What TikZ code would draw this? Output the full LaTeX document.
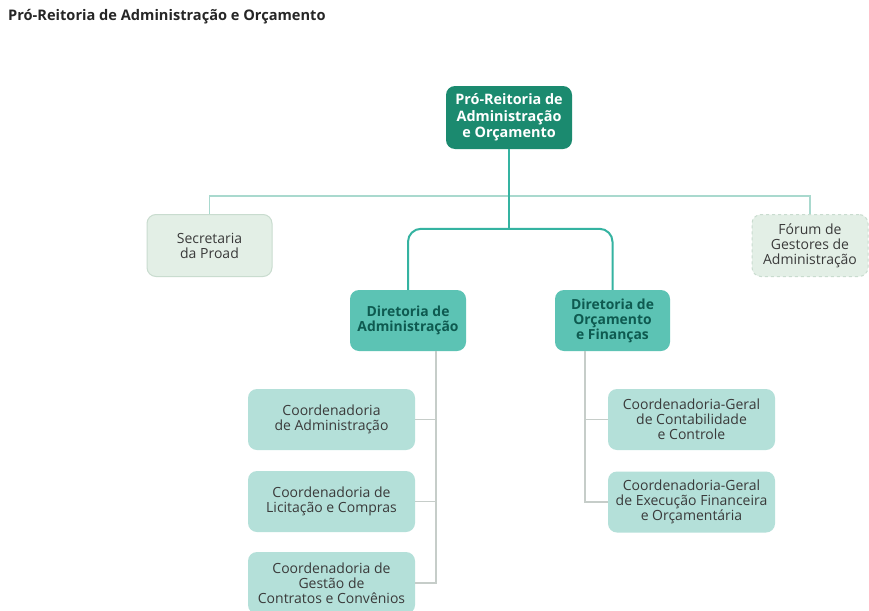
\documentclass[tikz,border=0pt]{standalone}
\usepackage{fontspec}
\setmainfont{Open Sans}
\usetikzlibrary{positioning}
\definecolor{topfill}{HTML}{1B8A6F}
\definecolor{dirfill}{HTML}{5CC3B4}
\definecolor{dirtext}{HTML}{0E5A50}
\definecolor{kidfill}{HTML}{B4E0D9}
\definecolor{secfill}{HTML}{E3EFE6}
\definecolor{secline}{HTML}{C9DCCF}
\definecolor{mainline}{HTML}{35B3A1}
\definecolor{lightline}{HTML}{A9D9CE}
\definecolor{grayline}{HTML}{C6CDC9}
\definecolor{txt}{HTML}{3A3A3A}
\tikzset{
  box/.style={rectangle, rounded corners=9pt, align=center, inner sep=0pt},
  topbox/.style={box, fill=topfill, text=white, font=\fontsize{14.4}{16.5}\selectfont\bfseries, minimum width=126pt, minimum height=63pt},
  dirbox/.style={box, fill=dirfill, text=dirtext, font=\fontsize{13.9}{15}\selectfont\bfseries, minimum width=116pt, minimum height=61pt},
  kidbox/.style={box, fill=kidfill, text=txt, font=\fontsize{14}{15}\selectfont, minimum width=167pt, minimum height=61pt},
  sidebox/.style={box, fill=secfill, draw=secline, line width=1pt, text=txt, font=\fontsize{14}{15}\selectfont, minimum height=62pt},
  mainconn/.style={draw=mainline, line width=2pt},
  lightconn/.style={draw=lightline, line width=1.3pt},
  grayconn/.style={draw=grayline, line width=1.2pt},
}
\begin{document}
\begin{tikzpicture}[x=1pt,y=-1pt]
\useasboundingbox[fill=white] (0,0) rectangle (869,610);
\node[anchor=west, font=\fontsize{14.6}{16}\selectfont\bfseries, text=black!85, inner sep=0pt] (title) at (8,17) {Pró-Reitoria de Administração e Orçamento};

\node[topbox] (top) at (509,117.5) {Pró-Reitoria de\\Administração\\e Orçamento};
\node[sidebox, minimum width=125pt] (sec) at (209.5,245.5) {Secretaria\\da Proad};
\node[sidebox, dashed, minimum width=116pt] (forum) at (810,245.5) {Fórum de\\Gestores de\\Administração};
\node[dirbox] (dadm) at (408,320.5) {Diretoria de\\Administração};
\node[dirbox, minimum width=115pt] (dorc) at (612.5,320.5) {Diretoria de\\Orçamento\\e Finanças};

\node[kidbox] (k1) at (331.5,419.5) {Coordenadoria\\de Administração};
\node[kidbox] (k2) at (331.5,501.5) {Coordenadoria de\\Licitação e Compras};
\node[kidbox, minimum height=62pt] (k3) at (331.5,583) {Coordenadoria de\\Gestão de\\Contratos e Convênios};
\node[kidbox] (r1) at (691.5,419.5) {Coordenadoria-Geral\\de Contabilidade\\e Controle};
\node[kidbox] (r2) at (691.5,502) {Coordenadoria-Geral\\de Execução Financeira\\e Orçamentária};

% side connector
\draw[lightconn] (sec.north) -- ++(0,-18) -| (forum.north);
% main connectors
\coordinate (split) at (509,229);
\draw[mainconn] (top.south) -- (split);
\draw[mainconn, rounded corners=13pt] (dadm.north) -- ++(0,-61) -| (dorc.north);
% left trunk
\coordinate (ltrunk) at (436,351);
\draw[grayconn] (ltrunk) |- (k3.east);
\draw[grayconn] (k1.east) -- (k1.east -| ltrunk);
\draw[grayconn] (k2.east) -- (k2.east -| ltrunk);
% right trunk
\coordinate (rtrunk) at (585,351);
\draw[grayconn] (rtrunk) |- (r2.west);
\draw[grayconn] (r1.west) -- (r1.west -| rtrunk);
\end{tikzpicture}
\end{document}
